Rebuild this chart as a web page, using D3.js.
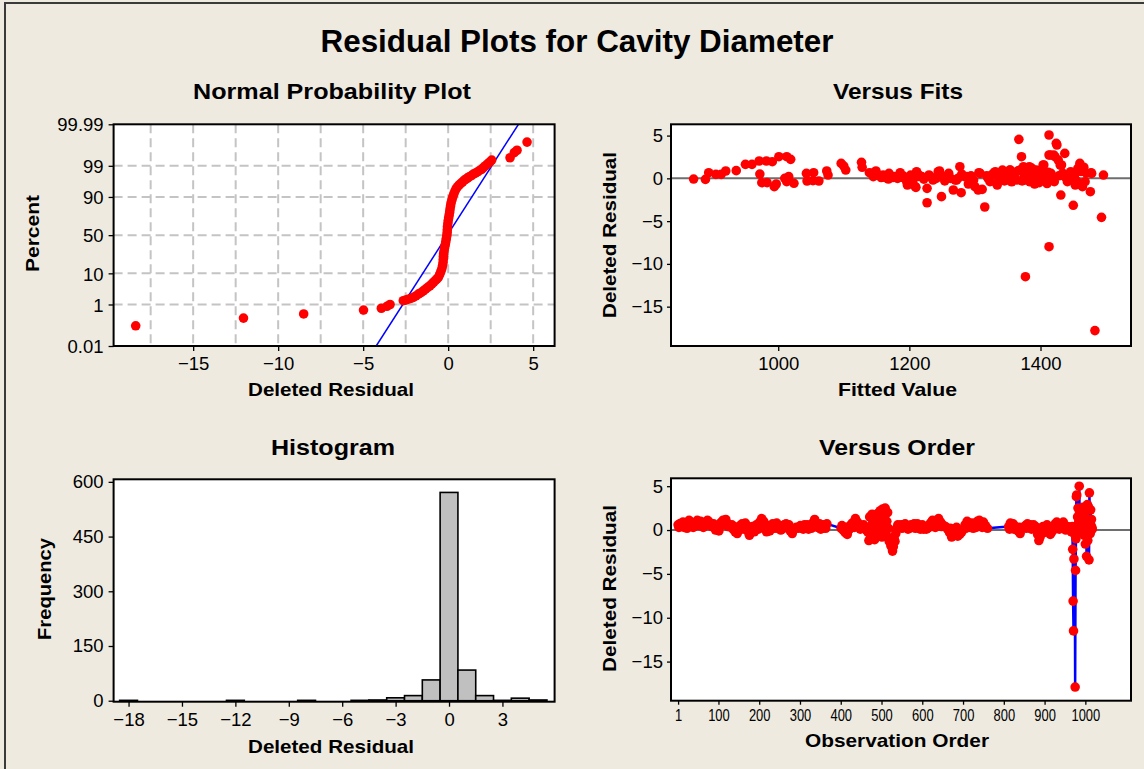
<!DOCTYPE html>
<html><head><meta charset="utf-8">
<script src="https://cdn.jsdelivr.net/npm/d3@7"></script>
<style>
html,body{margin:0;padding:0;background:#EEEAE0;}
svg{display:block;}
text{font-family:"Liberation Sans",Arial,sans-serif;fill:#000;}
</style></head>
<body>
<script>
// ---------------- DATA ----------------
const chartTitle = "Residual Plots for Cavity Diameter";
const panelTitles = ["Normal Probability Plot","Versus Fits","Histogram","Versus Order"];

// Normal probability plot: [deleted residual, percent]
const probPoints = [
[-18.38,0.118],[-12.04,0.27],[-8.5,0.41],[-4.98,0.6],[-3.93,0.71],[-3.6,0.85],[-3.42,1.0],
[-2.64,1.39],[-2.5,1.46],[-2.35,1.58],[-2.2,1.70],[-2.05,1.83],[-1.9,2.07],[-1.75,2.39],[-1.6,2.68],[-1.46,3.07],[-1.33,3.52],[-1.2,4.01],[-1.08,4.46],[-0.97,5.05],[-0.86,5.71],[-0.75,6.43],[-0.66,7.08],[-0.58,7.78],
[-0.5,9.34],[-0.43,11.12],[-0.37,13.14],[-0.33,15.39],[-0.30,17.88],[-0.29,20.61],[-0.28,23.58],[-0.27,26.76],[-0.24,30.15],[-0.21,33.72],[-0.17,37.45],[-0.14,41.29],[-0.11,45.22],[-0.08,49.2],[-0.06,53.19],[-0.05,57.14],[-0.04,61.03],[-0.02,64.8],[0.0,68.44],[0.03,71.9],[0.06,75.17],[0.09,78.23],[0.11,81.06],[0.14,83.65],[0.17,85.99],[0.22,88.1],[0.27,89.97],[0.33,91.62],[0.4,93.06],[0.47,94.06],[0.56,94.84],[0.65,95.45],[0.75,95.91],[0.85,96.33],
[0.95,96.78],[1.05,97.0],[1.15,97.26],[1.25,97.5],[1.37,97.72],[1.48,97.98],[1.6,98.12],[1.72,98.3],[1.85,98.5],[1.97,98.64],[2.08,98.84],[2.2,99.01],[2.32,99.16],[2.44,99.29],[2.56,99.41],
[3.64,99.53],[3.89,99.72],[4.05,99.78],[4.64,99.91]
];
const fitMean = -0.05, fitSd = 1.125;
const probTicks = [0.01,1,10,50,90,99,99.99];
const probTickLabels = ["0.01","1","10","50","90","99","99.99"];
const probGridPct = [1,10,50,90,99];
const probGridX = [-17.5,-15,-12.5,-10,-7.5,-5,-2.5,0,2.5,5];
const probXTicks = [-15,-10,-5,0,5];

// Versus fits: [fitted value, deleted residual]
const fitsPoints = [
[871,-0.08],[889,-0.12],[894,0.66],[905,0.47],[913,0.47],[920,0.86],[936,0.9],[950,1.64],[960,1.64],[971,2.03],[982,2.03],[991,1.95],[1001,2.53],[1013,2.53],[1019,2.22],
[972,0.5],[975,-0.5],[983,-0.5],[994,-0.97],[997,-0.66],[1010,0],[1013,-0.39],[1024,-0.58],[1016,0.2],
[1043,0.58],[1044,-0.31],[1054,0.66],[1053,-0.27],[1062,-0.31],[1074,0.86],[1076,0.39],
[1096,1.75],[1100,1.44],[1103,0.97],[1127,1.87],[1128,1.29],
[1139,0.66],[1143,0.58],[1145,0.2],[1148,0.39],[1149,0.86],[1153,0.39],[1157,0.1],[1160,0.39],[1161,0.2],[1165,0.05],[1168,-0.08],[1169,0.58],[1171,0.2],[1175,0.1],[1178,0.2],[1182,0.0],[1186,0.39],[1186,0.66],[1190,0.1],[1191,0.27],[1196,-0.39],[1197,-0.78],[1200,0.1],[1202,0.39],[1205,-0.2],[1209,-0.97],[1210,-1.05],[1211,0.78],[1212,0.2],[1215,0.35],[1219,0.2],[1222,-0.1],[1227,-1.17],[1227,-2.85],[1230,0.4],[1232,0.2],[1236,-0.2],[1241,0.0],[1244,0.78],[1246,0.86],[1249,-2.14],[1251,0.2],[1254,-0.3],[1257,0.2],[1260,0.58],[1263,0.0],[1267,-1.36],[1270,-0.2],[1272,-0.2],[1274,0.0],[1277,1.36],[1279,-1.68],[1280,0.5],[1284,0.2],[1288,0.2],[1290,-0.66],[1294,0.3],[1298,-0.2],[1300,-0.97],[1305,-1.36],[1306,0.66],[1308,0.58],[1311,-1.29],[1315,-3.35],[1318,0.3],[1320,0],[1323,-0.39],[1326,0.4],[1328,0.58],[1331,0.78],[1333,-0.58],[1334,-0.78],[1336,0.2],[1339,0],[1342,0.97],[1343,0.2],[1345,-0.3],[1347,-0.19],[1350,0.5],[1353,0.97],[1354,0.97],[1356,-0.4],[1358,0.2],[1361,0.6],[1364,-0.2],[1366,0.9],[1367,4.56],[1369,0.97],[1371,2.53],[1372,-0.3],[1374,1.36],[1375,0.4],[1377,-11.5],[1378,-0.19],[1380,0.8],[1383,1.36],[1384,-0.4],[1386,0.2],[1387,1.17],[1389,0.6],[1391,-0.66],[1392,-0.58],[1394,0.97],[1396,0.1],[1398,-0.5],[1400,0.2],[1402,0.9],[1404,1.56],[1405,1.56],[1407,0.4],[1408,-0.19],[1410,-0.6],[1412,0.7],[1413,5.07],[1413,-7.99],[1413,2.73],[1415,2.73],[1416,0.58],[1418,0.1],[1420,2.73],[1421,-0.39],[1422,2.53],[1424,4.09],[1425,3.9],[1427,2.14],[1428,0.3],[1430,1.56],[1431,-1.95],[1432,1.56],[1434,0.6],[1437,2.92],[1437,0.2],[1440,0],[1441,-0.39],[1444,0.5],[1446,0.78],[1448,0.1],[1450,-3.15],[1452,0.4],[1453,-0.78],[1455,-0.3],[1457,1.17],[1460,1.75],[1462,0.8],[1463,-0.78],[1464,-0.97],[1466,1.3],[1468,-0.39],[1470,0.6],[1476,-1.56],[1477,0.66],[1478,0.58],[1483,-17.8],[1493,-4.56],[1496,0.39]
];
const fitsXTicks = [1000,1200,1400];
const residTicks = [5,0,-5,-10,-15];

// Histogram: bin centres (width 1) and frequencies
const histBins = [-18,-17,-16,-15,-14,-13,-12,-11,-10,-9,-8,-7,-6,-5,-4,-3,-2,-1,0,1,2,3,4,5];
const histCounts = [1,0,0,0,0,0,1,0,0,0,1,0,0,1,2,8,14,57,571,84,14,1,7,2];
const histXTicks = [-18,-15,-12,-9,-6,-3,0,3];
const histYTicks = [0,150,300,450,600];

// Versus order: [observation order, deleted residual]
const orderPoints = [
[1,0.6],[3,0.3],[6,0.75],[8,0.4],[11,0.45],[13,0.9],[16,0.3],[18,0.6],[21,0.55],[23,0.2],[26,0.8],[28,1.1],[31,0.95],[33,0.5],[36,0.6],[38,0.3],[41,0.4],[43,0.8],[46,0.7],[48,1.1],[51,0.9],[53,0.5],[56,1.0],[58,0.7],[61,0.65],[63,0.3],[66,0.5],[68,0.9],[71,0.85],[73,1.1],[76,1.0],[78,0.6],[81,0.7],[83,0.4],[86,0.45],[88,0.7],[91,0.3],[93,0.0],[96,0.2],[98,0.5],[101,-0.1],[103,0.4],[106,0.85],[108,0.6],[111,1.1],[113,0.7],[116,1.0],[118,1.2],[121,0.8],[123,0.4],[126,0.6],
[131,0.3],[133,0.6],[136,0.1],[138,0.4],[141,-0.2],[143,0.2],[146,-0.4],[148,0.1],[151,0.0],[153,0.5],[156,0.3],[158,0.7],[161,0.5],[163,0.1],[166,0.8],[168,0.4],[171,0.2],[173,-0.2],[176,-0.6],[178,0.1],[181,-0.2],[183,0.4],[186,0.3],[188,-0.2],[191,0.0],[193,0.6],[196,0.4],[198,0.1],[201,0.9],[203,0.5],[206,1.3],[208,0.7],[211,1.0],[213,0.2],[216,0.4],[218,-0.2],[221,0.1],[223,0.5],[226,-0.1],[228,0.2],[231,0.3],[233,0.7],[236,0.6],[238,0.2],[241,0.5],[243,0.8],[246,0.2],[248,0.5],[251,0.4],[253,0.0],[256,0.1],[258,0.4],[261,0.6],[263,0.3],[266,0.7],[268,0.4],[271,0.3],[273,0.6],[276,-0.1],[278,0.2],[281,-0.4],[283,0.0],[286,0.1],[291,0.3],[296,0.2],[301,0.5],[306,0.4],[308,0.1],[311,0.6],[313,0.2],[316,0.3],[318,0.6],[321,0.1],[323,0.4],[326,0.5],[328,0.2],[331,0.8],[333,0.4],[336,1.2],[338,0.7],[341,0.7],[343,0.3],[346,0.4],[348,0.7],[351,0.1],[353,0.4],[356,0.2],[358,0.6],[361,0.5],[363,0.2],[366,0.7],
[401,0.2],[403,0.5],[406,0.0],[408,0.3],[411,-0.3],[413,0.1],[416,-0.5],[418,-0.1],[421,0.1],[423,0.5],[426,0.4],[428,0.8],[431,0.7],[433,0.3],[436,1.3],[438,0.8],[441,0.9],[443,0.4],[446,0.5],[448,0.1],[451,0.2],[453,0.5],[456,0.6],[458,0.2],[461,0.3],[463,0.0],[466,-0.2],[469,-1.2],
[471,1.5],[473,-0.8],[475,0.5],[477,1.8],[479,-0.3],[481,1.0],[483,-1.1],[485,1.6],[487,0.2],[489,-0.6],[491,1.9],[493,0.8],[495,-0.2],[497,2.2],[499,1.2],[501,-0.8],[503,2.4],[505,0.4],[507,1.6],[509,2.5],[511,-0.5],[513,1.0],[515,2.0],[517,0.2],[519,-1.3],[521,-0.9],[523,-1.8],[525,-1.4],[527,-2.4],[529,-1.9],[531,-1.0],[533,-1.3],[535,-0.4],[537,0.2],[540,0.6],[543,0.3],
[548,0.6],[550,0.2],[553,0.3],[555,0.6],[558,0.7],[560,0.3],[563,0.4],[565,0.1],[568,0.2],[570,0.5],[573,0.6],[575,0.3],[578,0.5],[580,0.7],[583,0.2],[585,0.5],[588,0.7],[590,0.3],[593,0.5],[595,0.1],[598,0.3],[600,0.6],[603,0.1],[605,0.3],[608,0.4],[610,0.1],[613,0.2],
[620,0.8],[622,0.4],[625,1.1],[627,0.6],[630,0.7],[632,0.3],[635,0.9],[637,0.5],[640,1.3],[642,0.7],[645,0.9],[647,0.4],[650,0.6],
[657,0.4],[662,0.1],[667,-0.3],[669,0.2],[672,-0.8],[674,-0.3],[677,-0.5],[679,0.1],[682,-0.2],[684,0.3],[687,-0.7],[689,-0.2],[692,-0.5],[697,-0.2],
[705,0.6],[707,0.2],[710,1.0],[712,0.6],[715,0.8],[717,0.3],[720,0.4],[722,0.8],[725,0.2],[727,0.5],[730,0.6],[732,0.3],[735,1.0],[737,0.6],[740,1.1],[742,0.5],[745,0.7],[747,0.3],[750,0.9],[752,0.5],[755,0.5],[760,0.2],
[812,0.4],[814,0.1],[816,0.8],[818,0.3],[820,0.5],[823,0.7],[825,0.1],[828,0.4],[830,0.3],[833,0.0],[835,-0.1],[838,0.3],[840,-0.4],[845,0.2],
[853,0.5],[855,0.2],[858,0.7],[860,0.3],[863,0.3],[865,0.6],[868,0.1],[870,0.4],[873,0.6],[875,0.2],[878,0.4],[881,0.0],[883,-0.5],[886,-1.2],[889,-0.8],
[894,0.0],[896,0.4],[898,-0.3],[900,0.1],[902,0.3],[904,-0.1],[906,0.6],[908,0.3],[910,0.2],[912,0.0],[914,-0.5],[916,0.1],[918,-0.2],[920,0.2],[922,0.4],[924,0.1],[926,0.7],[928,0.4],[930,0.9],[932,0.3],[934,0.5],[936,0.1],[938,0.2],[940,0.4],[942,0.6],[944,0.2],[946,0.9],[948,0.5],[950,0.4],[952,0.0],[954,0.1],[956,0.4],[958,0.3],[960,0.1],[962,0.0],
[964,0.3],[966,-0.2],[968,0.4],[969,-2.2],[970,-8.1],[971,-11.5],[972,-3.3],[974,-0.5],[975,-17.9],[976,-4.6],[977,-1.0],[978,3.8],[979,4.0],[980,0.5],[981,1.5],[982,2.5],[983,0.2],[984,1.0],[985,5.0],[986,2.0],[987,0.3],[988,1.2],[989,2.3],[990,0.6],[991,-0.3],[992,1.8],[993,0.9],[994,2.6],[995,0.1],[996,1.4],[997,-0.6],[998,0.8],[999,2.0],[1000,-1.6],[1001,0.4],[1002,1.3],[1003,-3.0],[1004,0.7],[1005,2.9],[1006,-1.2],[1007,2.7],[1008,0.2],[1009,-3.4],[1010,4.25],[1011,1.0],[1012,-0.4],[1013,2.3],[1014,0.5],[1015,1.2],[1016,0.3],[1017,0.1]
];
const orderXTicks = [1,100,200,300,400,500,600,700,800,900,1000];

// ---------------- HELPERS ----------------
function probit(p){
  const a=[-3.969683028665376e+01,2.209460984245205e+02,-2.759285104469687e+02,1.383577518672690e+02,-3.066479806614716e+01,2.506628277459239e+00];
  const b=[-5.447609879822406e+01,1.615858368580409e+02,-1.556989798598866e+02,6.680131188771972e+01,-1.328068155288572e+01];
  const c=[-7.784894002430293e-03,-3.223964580411365e-01,-2.400758277161838e+00,-2.549732539343734e+00,4.374664141464968e+00,2.938163982698783e+00];
  const d=[7.784695709041462e-03,3.224671290700398e-01,2.445134137142996e+00,3.754408661907416e+00];
  const pl=0.02425, ph=1-pl; let q,r;
  if(p<pl){q=Math.sqrt(-2*Math.log(p));return (((((c[0]*q+c[1])*q+c[2])*q+c[3])*q+c[4])*q+c[5])/((((d[0]*q+d[1])*q+d[2])*q+d[3])*q+1);}
  if(p<=ph){q=p-0.5;r=q*q;return (((((a[0]*r+a[1])*r+a[2])*r+a[3])*r+a[4])*r+a[5])*q/(((((b[0]*r+b[1])*r+b[2])*r+b[3])*r+b[4])*r+1);}
  q=Math.sqrt(-2*Math.log(1-p));return -(((((c[0]*q+c[1])*q+c[2])*q+c[3])*q+c[4])*q+c[5])/((((d[0]*q+d[1])*q+d[2])*q+d[3])*q+1);
}

const W=1144,H=769;
const svg=d3.select("body").append("svg").attr("width",W).attr("height",H);
svg.append("rect").attr("width",W).attr("height",H).attr("fill","#EEEAE0");
svg.append("rect").attr("x",5).attr("y",3).attr("width",1200).attr("height",900)
  .attr("fill","none").attr("stroke","#3a3a3a").attr("stroke-width",2);

function label(txt,x,y,size,len,rot){
  const t=svg.append("text").attr("x",x).attr("y",y).attr("text-anchor","middle")
    .attr("font-weight","bold").attr("font-size",size).text(txt);
  if(len) t.attr("textLength",len).attr("lengthAdjust","spacingAndGlyphs");
  if(rot) t.attr("transform",`rotate(-90,${x},${y})`);
  return t;
}
label(chartTitle,577,52,31,513);

const P1={x0:113.6,x1:554.6,y0:124.3,y1:346};
const P2={x0:671,x1:1131,y0:124.3,y1:346};
const P3={x0:113.6,x1:554.6,y0:479.3,y1:701.7};
const P4={x0:671,x1:1131,y0:478.3,y1:700.7};

function plotBg(P){
  svg.append("rect").attr("x",P.x0).attr("y",P.y0).attr("width",P.x1-P.x0).attr("height",P.y1-P.y0).attr("fill","#fff");
}
function frame(P){
  svg.append("rect").attr("x",P.x0).attr("y",P.y0).attr("width",P.x1-P.x0).attr("height",P.y1-P.y0)
    .attr("fill","none").attr("stroke","#000").attr("stroke-width",2);
}
function styleAxis(g,size){
  g.select(".domain").remove();
  g.selectAll(".tick line").attr("stroke","#000").attr("stroke-width",1.3);
  g.selectAll(".tick text").attr("font-size",size).attr("fill","#000")
    .style("font-family",'"Liberation Sans",Arial,sans-serif');
}
const R=4.8, RED="#FF0000", TF=18.5;

// ---------------- PANEL 1: Normal probability ----------------
{
  const P=P1;
  plotBg(P);
  const x=d3.scaleLinear().domain([-19.68,6.26]).range([P.x0,P.x1]);
  const zMax=probit(0.9999);
  const yz=d3.scaleLinear().domain([-zMax,zMax]).range([P.y1,P.y0]);
  const yp=p=>yz(probit(p/100));
  const g=svg.append("g");
  g.selectAll("line.vg").data(probGridX).join("line").attr("x1",d=>x(d)).attr("x2",d=>x(d))
    .attr("y1",P.y0).attr("y2",P.y1).attr("stroke","#C4C4C4").attr("stroke-width",2).attr("stroke-dasharray","9,5");
  g.selectAll("line.hg").data(probGridPct).join("line").attr("y1",d=>yp(d)).attr("y2",d=>yp(d))
    .attr("x1",P.x0).attr("x2",P.x1).attr("stroke","#C4C4C4").attr("stroke-width",2).attr("stroke-dasharray","9,5");
  svg.append("clipPath").attr("id","c1").append("rect").attr("x",P.x0).attr("y",P.y0).attr("width",P.x1-P.x0).attr("height",P.y1-P.y0);
  svg.append("line").attr("clip-path","url(#c1)")
    .attr("x1",x(fitMean-fitSd*zMax)).attr("y1",yz(-zMax))
    .attr("x2",x(fitMean+fitSd*zMax)).attr("y2",yz(zMax))
    .attr("stroke","#0000FF").attr("stroke-width",1.5);
  svg.append("g").selectAll("circle").data(probPoints).join("circle")
    .attr("cx",d=>x(d[0])).attr("cy",d=>yp(d[1])).attr("r",R).attr("fill",RED);
  frame(P);
  const ax=svg.append("g").attr("transform",`translate(0,${P.y1})`)
    .call(d3.axisBottom(x).tickValues(probXTicks).tickSize(5).tickPadding(6).tickFormat(d3.format("d")));
  styleAxis(ax,TF);
  const ay=svg.append("g").attr("transform",`translate(${P.x0},0)`)
    .call(d3.axisLeft(yz).tickValues(probTicks.map(p=>probit(p/100))).tickSize(5).tickPadding(5)
      .tickFormat((d,i)=>probTickLabels[i]));
  styleAxis(ay,TF);
  ay.selectAll(".tick text").attr("dy","0.36em");
  label(panelTitles[0],332,99,22,278);
  label("Deleted Residual",331,396,19,166);
  label("Percent",38.5,233.5,19,77,true);
}

// ---------------- PANEL 2: Versus fits ----------------
{
  const P=P2;
  plotBg(P);
  const x=d3.scaleLinear().domain([836.5,1538]).range([P.x0,P.x1]);
  const y=d3.scaleLinear().domain([-19.6,6.32]).range([P.y1,P.y0]);
  svg.append("line").attr("x1",P.x0).attr("x2",P.x1).attr("y1",y(0)).attr("y2",y(0))
    .attr("stroke","#6E6E6E").attr("stroke-width",2);
  svg.append("g").selectAll("circle").data(fitsPoints).join("circle")
    .attr("cx",d=>x(d[0])).attr("cy",d=>y(d[1])).attr("r",R).attr("fill",RED);
  frame(P);
  const ax=svg.append("g").attr("transform",`translate(0,${P.y1})`)
    .call(d3.axisBottom(x).tickValues(fitsXTicks).tickSize(5).tickPadding(6).tickFormat(d3.format("d")));
  styleAxis(ax,TF);
  const ay=svg.append("g").attr("transform",`translate(${P.x0},0)`)
    .call(d3.axisLeft(y).tickValues(residTicks).tickSize(4).tickPadding(4).tickFormat(d3.format("d")));
  styleAxis(ay,TF);
  label(panelTitles[1],898,99,22,130);
  label("Fitted Value",897.5,396,19,119);
  label("Deleted Residual",616,235,19,166,true);
}

// ---------------- PANEL 3: Histogram ----------------
{
  const P=P3;
  plotBg(P);
  const x=d3.scaleLinear().domain([-18.84,5.93]).range([P.x0,P.x1]);
  const y=d3.scaleLinear().domain([-2.7,607]).range([P.y1,P.y0]);
  const bins=histBins.map((c,i)=>({c,n:histCounts[i]}));
  svg.append("g").selectAll("rect").data(bins).join("rect")
    .attr("x",d=>x(d.c-0.5)).attr("width",d=>x(d.c+0.5)-x(d.c-0.5))
    .attr("y",d=>y(d.n)).attr("height",d=>y(0)-y(d.n))
    .attr("fill","#C0C0C0").attr("stroke","#000").attr("stroke-width",1.6);
  frame(P);
  const ax=svg.append("g").attr("transform",`translate(0,${P.y1})`)
    .call(d3.axisBottom(x).tickValues(histXTicks).tickSize(5).tickPadding(6).tickFormat(d3.format("d")));
  styleAxis(ax,TF);
  const ay=svg.append("g").attr("transform",`translate(${P.x0},0)`)
    .call(d3.axisLeft(y).tickValues(histYTicks).tickSize(5).tickPadding(5).tickFormat(d3.format("d")));
  styleAxis(ay,TF);
  label(panelTitles[2],333,455,22,124);
  label("Deleted Residual",331,753,19,166);
  label("Frequency",51,589,19,102,true);
}

// ---------------- PANEL 4: Versus order ----------------
{
  const P=P4;
  plotBg(P);
  const x=d3.scaleLinear().domain([-16.4,1112]).range([P.x0,P.x1]);
  const y=d3.scaleLinear().domain([-19.46,5.9]).range([P.y1,P.y0]);
  svg.append("line").attr("x1",P.x0).attr("x2",P.x1).attr("y1",y(0)).attr("y2",y(0))
    .attr("stroke","#6E6E6E").attr("stroke-width",2);
  svg.append("path").datum(orderPoints)
    .attr("d",d3.line().x(d=>x(d[0])).y(d=>y(d[1])))
    .attr("fill","none").attr("stroke","#0000FF").attr("stroke-width",2.5).attr("stroke-linejoin","round");
  svg.append("g").selectAll("circle").data(orderPoints).join("circle")
    .attr("cx",d=>x(d[0])).attr("cy",d=>y(d[1])).attr("r",R).attr("fill",RED);
  frame(P);
  const ax=svg.append("g").attr("transform",`translate(0,${P.y1})`)
    .call(d3.axisBottom(x).tickValues(orderXTicks).tickSize(4).tickPadding(5).tickFormat(d3.format("d")));
  styleAxis(ax,16.5);
  ax.selectAll(".tick text").attr("textLength",d=>String(d).length*7.2).attr("lengthAdjust","spacingAndGlyphs");
  const ay=svg.append("g").attr("transform",`translate(${P.x0},0)`)
    .call(d3.axisLeft(y).tickValues(residTicks).tickSize(4).tickPadding(4).tickFormat(d3.format("d")));
  styleAxis(ay,TF);
  label(panelTitles[3],897,455,22,156);
  label("Observation Order",897,747,19,184);
  label("Deleted Residual",616,588.5,19,167,true);
}
</script>
</body></html>
